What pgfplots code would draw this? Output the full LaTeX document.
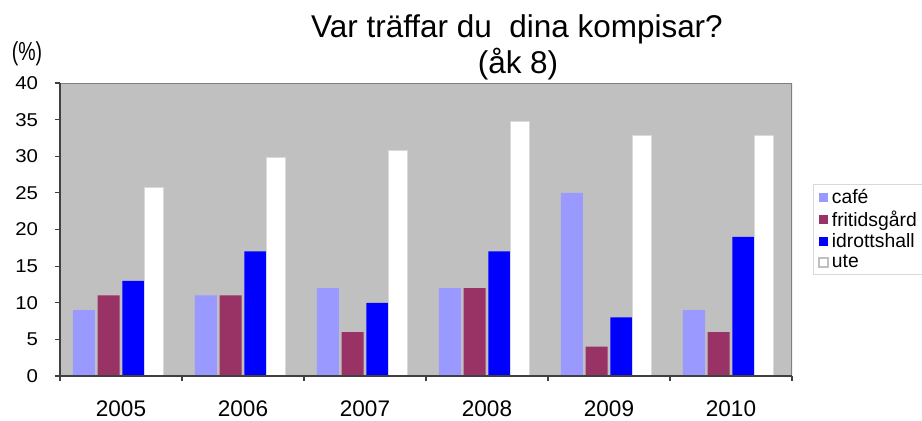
\documentclass[border=0pt]{standalone}
\usepackage{fontspec}
\setmainfont{Liberation Sans}
\newfontfamily\narrowfont[FakeStretch=0.75]{Liberation Sans}
\newfontfamily\widefont[FakeStretch=1.1]{Liberation Sans}
\usepackage{pgfplots}
\pgfplotsset{compat=1.18}

\definecolor{cafe}{HTML}{9999FF}
\definecolor{fritid}{HTML}{993366}
\definecolor{idrott}{HTML}{0000FF}
\definecolor{plotbg}{HTML}{C0C0C0}
\definecolor{frame}{HTML}{808080}

\begin{document}
\begin{tikzpicture}
\useasboundingbox (0,0) rectangle (691.5pt,315.75pt);

% title and unit label (1px = 0.75pt)
\node[anchor=base, font=\fontsize{23.6}{27}\selectfont] at (387.75pt,287.25pt) {Var träffar du\ \ dina kompisar?};
\node[anchor=base, font=\fontsize{23.6}{27}\selectfont] at (388.5pt,260.25pt) {(åk 8)};
\node[anchor=base, font=\fontsize{19.5}{20}\narrowfont] at (20.25pt,270.5pt) {(\%)};

\begin{axis}[
  at={(45pt,33.75pt)}, anchor=south west,
  scale only axis, width=549pt, height=219.75pt,
  xmin=-0.5, xmax=5.5, ymin=0, ymax=40,
  ybar, bar width=16.5pt,
  axis on top,
  axis background/.style={fill=plotbg},
  axis x line=bottom, axis y line=left,
  axis line style={-, draw=black!75, line width=1.1pt},
  tick align=outside, major tick length=4pt,
  tick style={black!75, line width=0.8pt},
  ytick={0,5,...,40},
  yticklabel style={font=\fontsize{13.9}{16}\widefont, xshift=-9pt},
  xtick={-0.5,0.5,1.5,2.5,3.5,4.5,5.5}, xticklabels={},
  extra x ticks={0,1,2,3,4,5},
  extra x tick labels={2005,2006,2007,2008,2009,2010},
  extra x tick style={major tick length=0pt,
    xticklabel style={font=\fontsize{16.9}{18}\selectfont, yshift=-14.75pt}},
  /pgf/number format/assume math mode=true,
  legend image code/.code={\path[#1] (0.5pt,-3.4pt) rectangle (7.25pt,3.4pt);},
  legend style={at={(1.0287,0.345)}, anchor=south west,
    draw=white!85!black, line width=0.8pt,
    font=\fontsize{14.5}{16}\selectfont,
    inner xsep=3pt, inner ysep=1.5pt, row sep=0pt,
    nodes={inner xsep=2.5pt}},
  legend cell align=left,
]
\addplot[fill=cafe, draw=none]
  coordinates {(0,9)(1,11)(2,12)(3,12)(4,25)(5,9)};
\addplot[fill=fritid, draw=none]
  coordinates {(0,11)(1,11)(2,6)(3,12)(4,4)(5,6)};
\addplot[fill=idrott, draw=none]
  coordinates {(0,13)(1,17)(2,10)(3,17)(4,8)(5,19)};
\addplot[fill=white, draw=white!85!black, line width=0.5pt,
  bar width=14.25pt, bar shift=24.4pt,
  legend image post style={draw=plotbg, line width=1.5pt}]
  coordinates {(0,25.8)(1,29.8)(2,30.8)(3,34.8)(4,32.8)(5,32.8)};
\legend{café,fritidsgård,idrottshall,ute}
\draw[frame, line width=1.5pt] (rel axis cs:0,1) -- (rel axis cs:1,1) -- (rel axis cs:1,0);
\end{axis}
\end{tikzpicture}
\end{document}
